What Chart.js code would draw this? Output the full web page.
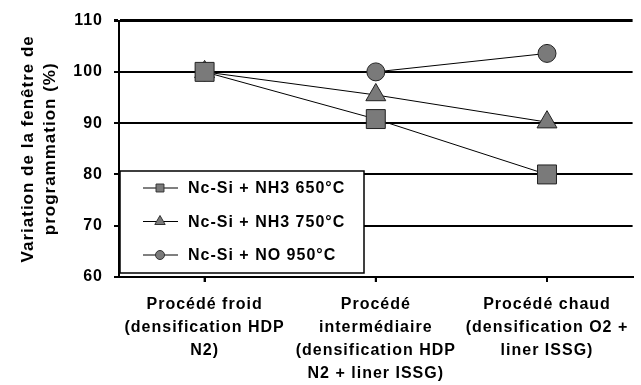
<!DOCTYPE html>
<html lang="fr">
<head>
  <meta charset="UTF-8" />
  <title>Variation de la fenêtre de programmation</title>
  <style>
    html, body { margin: 0; padding: 0; background: #fff; overflow: hidden; }
    .wrap { width: 647px; height: 385px; }
  </style>
  <script src="https://cdn.jsdelivr.net/npm/chart.js"></script>
</head>
<body>
  <div class="wrap">
    <canvas id="grafico" width="647" height="385"></canvas>
  </div>

<script>
  // données
  const procedes = [
    ['Procédé froid', '(densification HDP', 'N2)'],
    ['Procédé', 'intermédiaire', '(densification HDP', 'N2 + liner ISSG)'],
    ['Procédé chaud', '(densification O2 +', 'liner ISSG)']
  ];
  const nomsSeries = ['Nc-Si + NH3 650°C', 'Nc-Si + NH3 750°C', 'Nc-Si + NO 950°C'];
  const nh3_650 = [100, 90.8, 80];
  const nh3_750 = [100, 95.5, 90.2];
  const no_950 = [100, 100, 103.6];
  const graduations = [60, 70, 80, 90, 100, 110];

  const police = 'Liberation Sans, Arial, sans-serif';
  const espacement = '1px';

  // petit dessin des marqueurs pour la légende
  function dessinerMarqueur(ctx, style, r, x, y) {
    ctx.beginPath();
    if (style === 'rect') {
      const s = Math.SQRT1_2 * r;
      ctx.rect(x - s, y - s, 2 * s, 2 * s);
    } else if (style === 'triangle') {
      ctx.moveTo(x, y - r);
      ctx.lineTo(x + r * Math.sin(Math.PI / 3), y + r / 2);
      ctx.lineTo(x - r * Math.sin(Math.PI / 3), y + r / 2);
      ctx.closePath();
    } else {
      ctx.arc(x, y, r, 0, Math.PI * 2);
    }
    ctx.fill();
    ctx.stroke();
  }

  const espacementTexte = {
    id: 'espacementTexte',
    beforeLayout(chart) { chart.ctx.letterSpacing = espacement; },
    beforeDraw(chart) { chart.ctx.letterSpacing = espacement; }
  };

  // traits au centre des catégories sur l'axe x
  const traitsCentres = {
    id: 'traitsCentres',
    afterDraw(chart) {
      const ctx = chart.ctx;
      const x = chart.scales.x;
      ctx.save();
      ctx.strokeStyle = '#000';
      ctx.lineWidth = 2;
      for (let i = 0; i < procedes.length; i++) {
        const px = x.getPixelForTick(i);
        ctx.beginPath();
        ctx.moveTo(px, x.top);
        ctx.lineTo(px, x.top + 5);
        ctx.stroke();
      }
      ctx.restore();
    }
  };

  // légende encadrée dans la zone du graphique, en bas à gauche
  const legendeInterne = {
    id: 'legendeInterne',
    afterDatasetsDraw(chart) {
      const ctx = chart.ctx;
      const area = chart.chartArea;
      const bx = area.left + 1, by = area.bottom - 106, bw = 244, bh = 102;
      ctx.save();
      ctx.letterSpacing = espacement;
      ctx.fillStyle = '#fff';
      ctx.fillRect(bx, by, bw, bh);
      ctx.strokeStyle = '#000';
      ctx.lineWidth = 1.5;
      ctx.strokeRect(bx, by, bw, bh);
      const taillesLeg = [5.6, 6, 4.5];
      chart.data.datasets.forEach((ds, i) => {
        const y = by + 17 + i * 33.5;
        ctx.strokeStyle = '#000';
        ctx.lineWidth = 1;
        ctx.beginPath();
        ctx.moveTo(bx + 23, y);
        ctx.lineTo(bx + 58, y);
        ctx.stroke();
        ctx.fillStyle = ds.pointBackgroundColor;
        ctx.strokeStyle = '#333';
        dessinerMarqueur(ctx, ds.pointStyle, taillesLeg[i], bx + 40, y);
        ctx.fillStyle = '#000';
        ctx.font = 'bold 16px ' + police;
        ctx.textBaseline = 'middle';
        ctx.textAlign = 'left';
        ctx.fillText(ds.label, bx + 68, y + 1);
      });
      ctx.restore();
    }
  };

  function serie(label, valeurs, style, rayon) {
    return {
      label: label,
      data: valeurs,
      borderColor: '#000',
      borderWidth: 1,
      pointStyle: style,
      pointRadius: rayon,
      pointHoverRadius: rayon,
      pointBackgroundColor: '#7a7a7a',
      pointBorderColor: '#222',
      pointBorderWidth: 1,
      fill: false,
      tension: 0
    };
  }

  const config = {
    type: 'line',
    data: {
      labels: procedes,
      datasets: [
        serie(nomsSeries[0], nh3_650, 'rect', 13.4),
        serie(nomsSeries[1], nh3_750, 'triangle', 11.5),
        serie(nomsSeries[2], no_950, 'circle', 9)
      ]
    },
    options: {
      responsive: false,
      animation: false,
      events: [],
      layout: { padding: { top: 18, left: 0, right: 0, bottom: 0 } },
      plugins: {
        legend: { display: false },
        tooltip: { enabled: false }
      },
      scales: {
        x: {
          offset: true,
          grid: {
            drawOnChartArea: false,
            drawTicks: true,
            tickLength: 5,
            color: '#000',
            lineWidth: 2
          },
          border: { color: '#000', width: 2 },
          ticks: {
            color: '#000',
            font: { family: police, size: 16, weight: 'bold', lineHeight: 1.44 },
            padding: 11,
            maxRotation: 0,
            autoSkip: false
          },
          afterFit(scale) { scale.height = 108; }
        },
        y: {
          min: graduations[0],
          max: graduations[graduations.length - 1],
          afterBuildTicks(scale) { scale.ticks = graduations.map(v => ({ value: v })); },
          grid: {
            color: '#000',
            lineWidth: ctx => (ctx.tick && ctx.tick.value === 110 ? 3 : 2),
            tickLength: 5
          },
          border: { color: '#000', width: 2 },
          ticks: {
            color: '#000',
            font: { family: police, size: 16, weight: 'bold' },
            padding: 11
          },
          title: {
            display: true,
            text: ['Variation de la fenêtre de', 'programmation (%)'],
            color: '#000',
            font: { family: police, size: 17, weight: 'bold', lineHeight: 1.25 },
            padding: { top: 18, bottom: 0 }
          },
          afterFit(scale) { scale.width = 119; }
        }
      }
    },
    plugins: [espacementTexte, traitsCentres, legendeInterne]
  };

  new Chart(document.getElementById('grafico'), config);
</script>
</body>
</html>
